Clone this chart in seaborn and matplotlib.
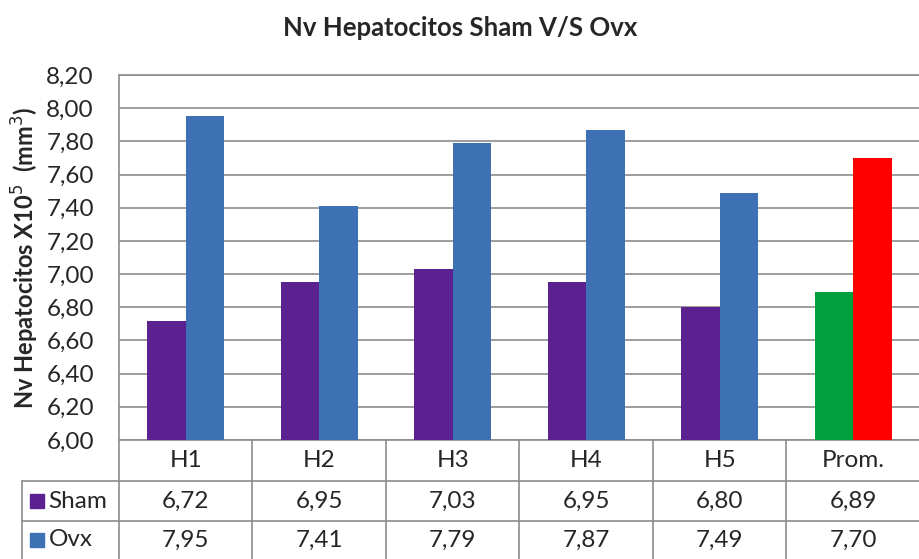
import numpy as np
import pandas as pd
import matplotlib
matplotlib.use("Agg")
import matplotlib.pyplot as plt
import matplotlib.transforms as mtransforms
import seaborn as sns

# data
categories = ["H1", "H2", "H3", "H4", "H5", "Prom."]
sham = [6.72, 6.95, 7.03, 6.95, 6.80, 6.89]
ovx = [7.95, 7.41, 7.79, 7.87, 7.49, 7.70]
groups = ["Sham", "Ovx"]
yticks = [6.0, 6.2, 6.4, 6.6, 6.8, 7.0, 7.2, 7.4, 7.6, 7.8, 8.0, 8.2]

purple = "#5B2191"
blue = "#3E70B4"
green = "#00A13D"
red = "#FF0000"
line_col = "#8C8C8C"

sns.set_style("white")
plt.rcParams["font.family"] = ["Lato", "DejaVu Sans"]
fs = 17.5

df = pd.DataFrame({
    "cat": categories * 2,
    "val": sham + ovx,
    "grp": ["Sham"] * len(categories) + ["Ovx"] * len(categories),
})

fig = plt.figure(figsize=(9.2, 5.59), dpi=100)
W, H = 920, 559
ax = fig.add_axes([119 / W, (H - 440) / H, (W - 119) / W, 365 / H])

sns.barplot(data=df, x="cat", y="val", hue="grp", order=categories,
            hue_order=groups, palette=[purple, blue], width=0.58,
            saturation=1, linewidth=0, ax=ax, legend=False, zorder=3)

# mean bars get their own colours
ax.containers[0].patches[-1].set_facecolor(green)
ax.containers[1].patches[-1].set_facecolor(red)

n = len(categories)
ax.set_xlim(-0.5, n - 0.5)
ax.set_ylim(6.0, 8.2)
ax.set_yticks(yticks)
ax.set_yticklabels([f"{v:.2f}".replace(".", ",") for v in yticks], fontsize=fs)
ax.tick_params(axis="y", length=0, pad=18)
ax.set_xticks([])
ax.set_xlabel("")
ax.set_ylabel("Nv Hepatocitos X10$^5$  (mm$^3$)", fontsize=17,
              fontweight="bold", labelpad=4)
ax.yaxis.grid(True, color=line_col, linewidth=1.2, zorder=0)
for s in ["left", "top", "right", "bottom"]:
    ax.spines[s].set_color(line_col)
    ax.spines[s].set_linewidth(1.2)

fig.text(0.5, 1 - 28 / H, "Nv Hepatocitos Sham V/S Ovx", ha="center",
         va="center", fontsize=18.5, fontweight="bold")

# data table under the axes
tr = mtransforms.blended_transform_factory(ax.transData, ax.transAxes)
ah = 365
r1, r2, r3 = -41 / ah, -81 / ah, -119 / ah
left = -0.5 - 97 / 133.5
kw = dict(color=line_col, linewidth=1.2, transform=tr, clip_on=False)
for i in range(n + 1):
    ax.plot([i - 0.5, i - 0.5], [0, r3], **kw)
ax.plot([left, left], [r1, r3], **kw)
ax.plot([left, n - 0.5], [r1, r1], **kw)
ax.plot([left, n - 0.5], [r2, r2], **kw)

for i, c in enumerate(categories):
    ax.text(i, r1 / 2, c, ha="center", va="center", fontsize=fs, transform=tr)
    ax.text(i, (r1 + r2) / 2, f"{sham[i]:.2f}".replace(".", ","),
            ha="center", va="center", fontsize=fs, transform=tr)
    ax.text(i, (r2 + r3) / 2, f"{ovx[i]:.2f}".replace(".", ","),
            ha="center", va="center", fontsize=fs, transform=tr)

for y, name, col in [((r1 + r2) / 2, "Sham", purple), ((r2 + r3) / 2, "Ovx", blue)]:
    ax.plot([left + 0.115], [y], marker="s", markersize=10, color=col,
            transform=tr, clip_on=False)
    ax.text(left + 0.2, y, name, ha="left", va="center", fontsize=fs,
            transform=tr)

fig.savefig("out.png", dpi=100)
